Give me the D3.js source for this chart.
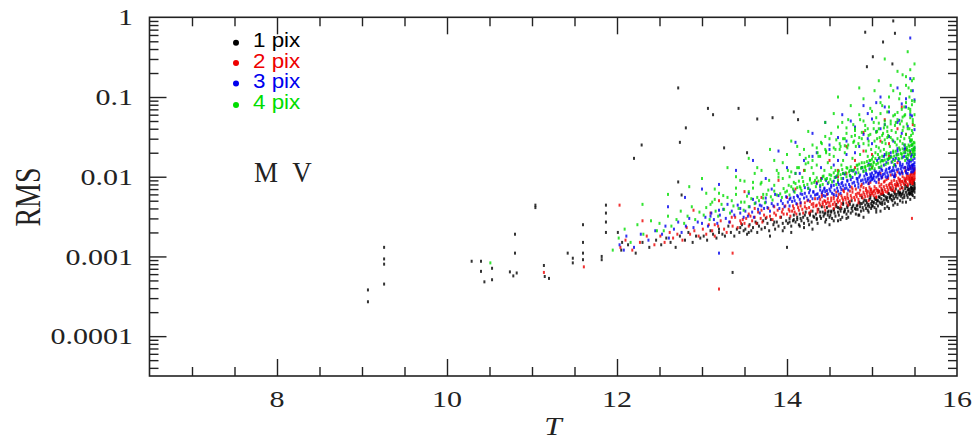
<!DOCTYPE html>
<html><head><meta charset="utf-8">
<script src="https://cdn.jsdelivr.net/npm/d3@7"></script>
<style>body{margin:0;background:#fff}svg{display:block}</style>
</head><body>
<svg id="c" width="975" height="447"></svg>
<script>
// ---------- data: [T magnitude, RMS] ----------
const rms1pix = [
[12.05,.0012],[12.13,.0014],[12.22,.0011],[12.3,.0015],[12.38,.0013],[12.46,.0016],
[12.52,.0014],[12.58,.0017],[12.63,.0015],[12.69,.0013],[12.74,.0018],[12.8,.0016],[12.84,.0020],[12.89,.0015],[12.93,.0018],[12.98,.0017],
[13.02,.0018],[13.06,.0016],[13.1,.0021],[13.13,.0019],[13.17,.0017],[13.2,.0022],[13.24,.0019],[13.27,.0018],[13.31,.0024],[13.34,.0020],[13.38,.0018],[13.41,.0022],[13.44,.0020],[13.47,.0025],[13.49,.0021],
[13.51,.0022],[13.53,.0019],[13.56,.0025],[13.58,.0021],[13.6,.0023],[13.63,.0027],[13.65,.0020],[13.67,.0024],[13.7,.0022],[13.72,.0028],[13.74,.0023],[13.77,.0026],[13.79,.0021],[13.81,.0029],[13.84,.0025],[13.86,.0022],[13.88,.0027],[13.9,.0024],[13.93,.0031],[13.95,.0026],[13.97,.0023],[13.99,.0028],
[14.01,.0026],[14.03,.0030],[14.05,.0024],[14.07,.0028],[14.08,.0033],[14.1,.0027],[14.12,.0029],[14.14,.0025],[14.15,.0034],[14.17,.0028],[14.19,.0031],[14.2,.0026],[14.22,.0036],[14.24,.0030],[14.25,.0028],[14.27,.0033],[14.29,.0027],[14.3,.0037],[14.32,.0031],[14.34,.0034],[14.35,.0029],[14.37,.0039],[14.39,.0032],[14.4,.0030],[14.42,.0036],[14.43,.0032],[14.45,.0035],[14.46,.0029],[14.47,.0041],[14.48,.0033],[14.49,.0037],[14.5,.0031],
[14.51,.0033],[14.52,.0037],[14.53,.0030],[14.55,.0039],[14.56,.0035],[14.57,.0032],[14.58,.0042],[14.6,.0036],[14.61,.0033],[14.62,.0040],[14.63,.0037],[14.65,.0031],[14.66,.0045],[14.67,.0036],[14.68,.0039],[14.7,.0034],[14.71,.0041],[14.72,.0037],[14.73,.0048],[14.75,.0035],[14.76,.0040],[14.77,.0037],[14.78,.0044],[14.8,.0040],[14.81,.0034],[14.82,.0043],[14.83,.0039],[14.85,.0048],[14.86,.0042],[14.87,.0037],[14.88,.0046],[14.89,.0041],[14.9,.0038],[14.91,.0051],[14.92,.0044],[14.93,.0040],[14.94,.0047],[14.95,.0038],[14.96,.0045],[14.97,.0042],[14.98,.0054],[14.99,.0046],[14.99,.0040],[15.0,.0049],[15.0,.0043],
[15.01,.0043],[15.02,.0048],[15.03,.0041],[15.04,.0052],[15.05,.0046],[15.06,.0050],[15.07,.0043],[15.08,.0056],[15.09,.0048],[15.1,.0046],[15.11,.0053],[15.12,.0048],[15.13,.0060],[15.14,.0051],[15.15,.0046],[15.16,.0056],[15.17,.0051],[15.18,.0055],[15.19,.0049],[15.2,.0061],[15.21,.0054],[15.22,.0058],[15.23,.0052],[15.24,.0067],[15.25,.0057],[15.26,.0053],[15.27,.0061],[15.28,.0056],[15.29,.0060],[15.3,.0054],[15.31,.0066],[15.32,.0059],[15.33,.0063],[15.34,.0057],[15.35,.0073],[15.36,.0062],[15.37,.0066],[15.38,.0059],[15.39,.0071],[15.4,.0064],[15.41,.0059],[15.42,.0068],[15.42,.0075],[15.43,.0062],[15.44,.0070],[15.44,.0065],[15.45,.0081],[15.45,.0061],[15.46,.0074],[15.46,.0067],[15.47,.0071],[15.47,.0064],[15.48,.0079],[15.48,.0072],[15.49,.0068],[15.49,.0085],[15.5,.0076],[15.5,.0070],[15.5,.0064],[15.5,.0082],
[15.33,.0062],[15.07,.0050],[15.46,.0072],[15.21,.0056],[15.39,.0078],[15.12,.0045],[15.48,.0066],[15.28,.0070],[15.02,.0047],[15.44,.0060],[15.17,.0053],[15.36,.0054],[15.09,.0055],[15.49,.0090],[15.24,.0050],[15.41,.0075],[15.05,.0052],[15.31,.0063],[15.47,.0060],[15.14,.0058],[15.38,.0055],[15.26,.0064],[15.5,.0072],[15.19,.0062],[15.43,.0069],[15.03,.0054],[15.35,.0060],[15.11,.0060],[15.45,.0088],[15.23,.0059],
[14.52,.0036],[14.08,.0029],[14.77,.0042],[14.31,.0032],[14.93,.0050],[14.16,.0030],[14.64,.0040],[14.44,.0034],[14.86,.0046],[14.03,.0027],[14.71,.0043],[14.27,.0035],[14.97,.0052],[14.55,.0038],[14.12,.0031],[14.83,.0044],[14.39,.0036],[14.68,.0037],[14.21,.0033],[14.9,.0048],[14.48,.0036],[14.74,.0045],[14.35,.0030],[14.95,.0043],[14.6,.0041],[14.81,.0039],
[15.42,.0055],[15.18,.0042],[15.33,.0050],[15.48,.0058],[15.05,.0039],[15.27,.0047],[15.39,.0088],[15.12,.0068],[15.45,.0062],[15.22,.0072],[14.96,.0036],[14.84,.0033],[14.72,.0031],[14.63,.0029],[14.55,.0028],[14.45,.0027],[14.36,.0026],[14.26,.0025],[14.15,.0024],[14.98,.0058],[14.88,.0055],[14.76,.0050],[14.66,.0047],[14.58,.0045],[14.41,.0042],[15.08,.0065],[15.3,.0080],[15.47,.0095],[15.36,.0048],[15.15,.0040],[15.5,.0055],[15.25,.0044],
[13.2,.0020],[13.45,.0023],[13.65,.0026],[13.85,.0027],[13.55,.0020],[13.75,.0030],
[14.05,.0020],[14.5,.0025],[13.8,.0018],[15.1,.0037],[14.3,.0022],[14.9,.0031],[15.3,.0045],[15.45,.0052],[14.2,.0023],[14.6,.0028],[14.85,.0033],[15.2,.0040],[15.4,.0048],[14.7,.0030],[13.95,.0021],[15.05,.0036],
[9.07,.00038],[9.07,.00027],[9.26,.0013],[9.26,.00093],[9.26,.0008],[9.26,.00045],[10.29,.00087],[10.4,.00087],[10.4,.00065],[10.44,.00048],[10.53,.00071],[10.53,.00051],[10.74,.00064],[10.78,.00057],[10.82,.00062],[10.8,.0019],[10.8,.0011],[11.04,.0044],[11.04,.0041],[11.14,.00077],[11.15,.00056],[11.2,.00053],[11.42,.0011],[11.48,.00095],[11.48,.00083],[11.6,.0025],[11.6,.0015],[11.6,.0011],[11.6,.00091],[11.82,.001],[11.82,.00091],[11.87,.0044],[11.87,.0035],[11.87,.0027],[11.87,.002],[12.01,.002],[12.06,.0015],[13.36,.00063],[14.0,.0013],
[15.25,.9],[14.92,.65],[15.13,.49],[15.27,.63],[15.01,.32],[15.24,.26],[14.94,.24],[12.72,.13],[13.07,.072],[13.13,.06],[13.43,.072],[13.65,.053],[13.83,.055],[14.08,.065],[14.13,.052],[12.81,.041],[12.74,.027],[12.29,.025],[12.2,.017],[12.72,.0086],[12.76,.0059],[13.26,.023],[13.53,.02]
];
const rms2pix = [
[12.04,.0013],[12.1,.0016],[12.18,.0012],[12.27,.0015],[12.35,.0018],[12.44,.0014],
[12.51,.0018],[12.56,.0015],[12.62,.0020],[12.66,.0017],[12.71,.0019],[12.77,.0016],[12.82,.0023],[12.86,.0019],[12.91,.0021],[12.96,.0018],
[13.01,.0022],[13.05,.0019],[13.08,.0025],[13.12,.0021],[13.15,.0018],[13.19,.0024],[13.22,.0028],[13.26,.0022],[13.29,.0020],[13.33,.0027],[13.36,.0024],[13.39,.0031],[13.42,.0023],[13.46,.0026],[13.48,.0029],
[13.5,.0026],[13.52,.0030],[13.55,.0024],[13.57,.0032],[13.59,.0028],[13.62,.0031],[13.64,.0026],[13.66,.0036],[13.69,.0030],[13.71,.0027],[13.73,.0033],[13.76,.0031],[13.78,.0040],[13.8,.0032],[13.83,.0029],[13.85,.0035],[13.87,.0033],[13.89,.0038],[13.92,.0031],[13.94,.0036],[13.96,.0034],[13.98,.0043],
[14.0,.0034],[14.02,.0039],[14.04,.0032],[14.06,.0037],[14.07,.0043],[14.09,.0036],[14.11,.0034],[14.13,.0041],[14.14,.0038],[14.16,.0047],[14.18,.0039],[14.19,.0035],[14.21,.0042],[14.23,.0040],[14.24,.0050],[14.26,.0041],[14.28,.0037],[14.29,.0045],[14.31,.0042],[14.33,.0053],[14.34,.0043],[14.36,.0039],[14.38,.0047],[14.39,.0044],[14.41,.0056],[14.42,.0045],[14.44,.0042],[14.45,.0049],[14.46,.0046],[14.47,.0060],[14.48,.0048],[14.49,.0043],
[14.5,.0047],[14.51,.0043],[14.52,.0050],[14.54,.0045],[14.55,.0053],[14.56,.0048],[14.57,.0044],[14.59,.0051],[14.6,.0048],[14.61,.0060],[14.62,.0050],[14.64,.0046],[14.65,.0054],[14.66,.0051],[14.67,.0065],[14.69,.0052],[14.7,.0047],[14.71,.0056],[14.72,.0053],[14.74,.0049],[14.75,.0058],[14.76,.0054],[14.77,.0070],[14.79,.0055],[14.8,.0051],[14.81,.0060],[14.82,.0056],[14.84,.0052],[14.85,.0062],[14.86,.0058],[14.87,.0076],[14.88,.0059],[14.89,.0054],[14.9,.0064],[14.91,.0060],[14.92,.0056],[14.93,.0067],[14.94,.0062],[14.95,.0057],[14.96,.0082],[14.97,.0063],[14.98,.0059],[14.98,.0069],[14.99,.0065],[15.0,.0061],
[15.01,.0064],[15.02,.0058],[15.03,.0068],[15.04,.0062],[15.05,.0056],[15.06,.0067],[15.07,.0063],[15.08,.0084],[15.09,.0066],[15.1,.0061],[15.11,.0072],[15.12,.0067],[15.13,.0063],[15.14,.0075],[15.15,.0069],[15.16,.0065],[15.17,.0092],[15.18,.0073],[15.19,.0068],[15.2,.0079],[15.21,.0074],[15.22,.0069],[15.23,.0082],[15.24,.0077],[15.25,.0072],[15.26,.0102],[15.27,.0080],[15.28,.0075],[15.29,.0087],[15.3,.0082],[15.31,.0077],[15.32,.0090],[15.33,.0085],[15.34,.0079],[15.35,.0112],[15.36,.0088],[15.37,.0083],[15.38,.0096],[15.39,.0090],[15.4,.0085],[15.41,.0100],[15.42,.0093],[15.42,.0081],[15.43,.0124],[15.44,.0097],[15.44,.0089],[15.45,.0105],[15.45,.0085],[15.46,.0099],[15.46,.0093],[15.47,.0112],[15.47,.0088],[15.48,.0103],[15.48,.0096],[15.49,.0110],[15.49,.0091],[15.5,.0106],[15.5,.0098],[15.5,.0117],[15.5,.0093],
[15.33,.0092],[15.07,.0068],[15.46,.0108],[15.21,.0082],[15.39,.0118],[15.12,.0062],[15.48,.0088],[15.28,.0104],[15.02,.0066],[15.44,.0095],[15.17,.0078],[15.36,.0072],[15.09,.0076],[15.49,.0125],[15.24,.0068],[15.41,.0108],[15.05,.0071],[15.31,.0096],[15.47,.0082],[15.14,.0086],[15.38,.0080],[15.26,.0090],[15.5,.0112],[15.19,.0095],[15.43,.0102],[15.03,.0075],[15.35,.0087],[15.11,.0080],[15.45,.0128],[15.23,.0088],[15.4,.0094],[15.29,.0078],
[14.52,.0054],[14.08,.0040],[14.77,.0064],[14.31,.0046],[14.93,.0071],[14.16,.0043],[14.64,.0058],[14.44,.0050],[14.86,.0068],[14.03,.0037],[14.71,.0061],[14.27,.0049],[14.97,.0074],[14.55,.0057],[14.12,.0045],[14.83,.0062],[14.39,.0052],[14.68,.0055],[14.21,.0047],[14.9,.0073],[14.48,.0053],[14.74,.0066],[14.35,.0044],[14.95,.0066],[14.6,.0055],[14.81,.0070],[14.42,.0048],[14.99,.0070],
[15.42,.0078],[15.18,.0064],[15.33,.0070],[15.48,.0082],[15.05,.0055],[15.27,.0066],[15.39,.0130],[15.12,.0098],[15.45,.0088],[15.22,.0105],[14.96,.0050],[14.84,.0047],[14.72,.0044],[14.63,.0042],[14.55,.0040],[14.45,.0038],[14.36,.0036],[14.26,.0035],[14.98,.0085],[14.88,.0080],[14.76,.0074],[14.66,.0068],[14.58,.0064],[14.41,.0060],[15.08,.0092],[15.3,.0115],[15.47,.0135],[15.36,.0100],[15.15,.0088],[15.5,.0125],
[13.15,.0025],[13.35,.0031],[13.55,.0034],[13.7,.0038],[13.85,.0042],[13.95,.0039],[13.45,.0028],[13.62,.0040],
[12.3,.0028],[12.9,.0038],[13.2,.0050],[13.5,.0065],[13.7,.0055],[13.9,.0090],[14.1,.0070],[14.2,.012],[14.35,.0085],[14.5,.016],[14.6,.010],[14.7,.024],[14.8,.013],[14.9,.036],[15.0,.019],[15.1,.011],[15.15,.052],[15.2,.026],[15.3,.015],[15.35,.075],[15.4,.034],[15.45,.020],[15.48,.045],[13.1,.0035],[14.0,.0055],
[14.4,.0095],[14.6,.012],[14.8,.016],[15.0,.013],[15.2,.018],[15.4,.022],[15.1,.028],[15.3,.040],[14.9,.021],[14.7,.011],
[15.47,.0030],[13.36,.0011],[13.2,.00039],[11.14,.00063],[11.61,.00074],[12.03,.0044]
];
const rms3pix = [
[12.03,.0014],[12.11,.0018],[12.2,.0013],[12.28,.0019],[12.37,.0016],[12.45,.0021],
[12.53,.0019],[12.57,.0024],[12.61,.0017],[12.67,.0022],[12.72,.0027],[12.76,.0020],[12.81,.0024],[12.85,.0030],[12.9,.0023],[12.95,.0027],
[13.0,.0026],[13.04,.0031],[13.07,.0024],[13.11,.0035],[13.14,.0029],[13.18,.0026],[13.21,.0033],[13.25,.0039],[13.28,.0030],[13.32,.0027],[13.35,.0037],[13.38,.0033],[13.42,.0044],[13.45,.0035],[13.49,.0031],
[13.51,.0037],[13.54,.0032],[13.56,.0042],[13.59,.0036],[13.61,.0031],[13.63,.0047],[13.66,.0039],[13.68,.0035],[13.7,.0043],[13.73,.0040],[13.75,.0054],[13.77,.0041],[13.8,.0037],[13.82,.0046],[13.84,.0043],[13.86,.0060],[13.89,.0045],[13.91,.0040],[13.93,.0050],[13.95,.0046],[13.97,.0042],[13.99,.0056],
[14.01,.0048],[14.03,.0043],[14.04,.0054],[14.06,.0049],[14.08,.0066],[14.09,.0050],[14.11,.0046],[14.13,.0056],[14.15,.0052],[14.16,.0047],[14.18,.0060],[14.2,.0054],[14.21,.0073],[14.23,.0056],[14.25,.0051],[14.26,.0063],[14.28,.0057],[14.3,.0053],[14.31,.0065],[14.33,.0059],[14.35,.0082],[14.36,.0061],[14.38,.0056],[14.39,.0068],[14.41,.0063],[14.43,.0058],[14.44,.0072],[14.45,.0065],[14.46,.0090],[14.47,.0067],[14.48,.0061],[14.5,.0070],
[14.51,.0066],[14.52,.0074],[14.53,.0062],[14.55,.0078],[14.56,.0068],[14.57,.0098],[14.59,.0072],[14.6,.0066],[14.61,.0080],[14.63,.0074],[14.64,.0069],[14.65,.0085],[14.66,.0077],[14.68,.0108],[14.69,.0079],[14.7,.0072],[14.71,.0088],[14.73,.0080],[14.74,.0075],[14.75,.0092],[14.77,.0083],[14.78,.0118],[14.79,.0085],[14.8,.0077],[14.82,.0095],[14.83,.0087],[14.84,.0081],[14.85,.0099],[14.87,.0089],[14.88,.0130],[14.89,.0091],[14.9,.0083],[14.91,.0102],[14.92,.0093],[14.93,.0086],[14.94,.0106],[14.95,.0095],[14.96,.0145],[14.97,.0097],[14.98,.0089],[14.98,.0108],[14.99,.0099],[15.0,.0092],[15.0,.0111],[14.58,.0058],
[15.01,.0095],[15.02,.0104],[15.03,.0089],[15.04,.0112],[15.05,.0099],[15.06,.0160],[15.07,.0102],[15.08,.0093],[15.09,.0115],[15.1,.0104],[15.11,.0096],[15.12,.0120],[15.13,.0107],[15.14,.0180],[15.15,.0109],[15.16,.0100],[15.17,.0124],[15.18,.0112],[15.19,.0103],[15.2,.0127],[15.21,.0115],[15.22,.0200],[15.23,.0117],[15.24,.0106],[15.25,.0131],[15.26,.0119],[15.27,.0109],[15.28,.0135],[15.29,.0122],[15.3,.0225],[15.31,.0124],[15.32,.0112],[15.33,.0139],[15.34,.0126],[15.35,.0116],[15.36,.0143],[15.37,.0129],[15.38,.0250],[15.39,.0131],[15.4,.0119],[15.41,.0148],[15.42,.0134],[15.42,.0110],[15.43,.0123],[15.44,.0152],[15.44,.0137],[15.45,.0280],[15.45,.0127],[15.46,.0157],[15.46,.0115],[15.47,.0140],[15.47,.0190],[15.48,.0131],[15.48,.0162],[15.49,.0143],[15.49,.0120],[15.5,.0170],[15.5,.0135],[15.5,.0150],[15.5,.0125],
[15.33,.015],[15.07,.011],[15.46,.018],[15.21,.013],[15.39,.020],[15.12,.010],[15.48,.014],[15.28,.017],[15.02,.0098],[15.44,.016],[15.17,.015],[15.36,.011],[15.09,.013],[15.49,.022],[15.24,.012],[15.41,.017],[15.05,.0115],[15.31,.016],[15.47,.0125],[15.14,.014],[15.38,.018],[15.26,.010],[15.5,.019],[15.19,.0165],[15.43,.0145],[15.03,.012],[15.35,.0135],[15.11,.0125],[15.45,.021],[15.23,.0152],[15.4,.0112],[15.08,.0108],[15.29,.019],[15.16,.0118],[15.42,.0162],[15.27,.0142],
[14.52,.0078],[14.08,.0055],[14.77,.0098],[14.31,.0064],[14.93,.011],[14.16,.0061],[14.64,.0082],[14.44,.0070],[14.86,.0105],[14.03,.0052],[14.71,.0090],[14.27,.0068],[14.97,.0125],[14.55,.0088],[14.12,.0058],[14.83,.0094],[14.39,.0075],[14.68,.0071],[14.21,.0062],[14.9,.0118],[14.48,.0082],[14.74,.0104],[14.35,.0060],[14.95,.0090],[14.6,.0085],[14.81,.0112],[14.42,.0066],[14.99,.0102],[14.25,.0072],[14.66,.0095],
[15.42,.0125],[15.18,.0098],[15.33,.0108],[15.48,.0115],[15.05,.0085],[15.27,.0100],[15.39,.023],[15.12,.016],[15.45,.0135],[15.22,.018],[14.96,.0082],[14.84,.0074],[14.72,.0068],[14.63,.0062],[14.55,.0060],[14.45,.0057],[14.36,.0053],[14.98,.014],[14.88,.013],[14.76,.012],[14.66,.011],[14.58,.010],[14.41,.0095],[15.08,.017],[15.3,.021],[15.47,.025],[15.36,.0175],[15.15,.019],[15.5,.023],[15.25,.0165],
[13.1,.0032],[13.3,.0045],[13.45,.0040],[13.6,.0052],[13.75,.0048],[13.9,.0058],[13.2,.0038],[13.55,.0062],[13.82,.0070],[13.68,.0044],
[13.2,.0080],[13.4,.012],[13.6,.016],[13.75,.0095],[13.9,.021],[14.0,.013],[14.1,.027],[14.2,.016],[14.3,.035],[14.35,.020],[14.45,.048],[14.5,.025],[14.6,.031],[14.65,.060],[14.7,.019],[14.8,.042],[14.85,.024],[14.9,.078],[14.95,.030],[15.0,.053],[15.05,.037],[15.1,.100],[15.15,.045],[15.2,.065],[15.25,.028],[15.3,.13],[15.32,.051],[15.35,.035],[15.4,.075],[15.42,.043],[15.45,.17],[15.47,.058],[15.5,.092],[15.5,.039],[12.8,.0055],[13.0,.0070],[12.6,.0042],[14.15,.011],[14.55,.014],[15.38,.022],
[14.3,.018],[14.5,.022],[14.7,.028],[14.9,.034],[15.1,.040],[15.3,.048],[15.45,.060],[15.2,.032],[15.0,.026],[14.8,.020],[14.6,.016],[14.4,.013],[14.1,.011],[15.4,.095],[15.15,.075],[14.95,.062],[14.75,.050],[15.48,.12],[15.35,.082],[15.05,.085],
[15.45,.55],[13.2,.0011],[12.08,.0012]
];
const rms4pix = [
[12.02,.0017],[12.09,.0022],[12.16,.0015],[12.24,.0025],[12.31,.0019],[12.4,.0028],[12.47,.0021],
[12.5,.0026],[12.55,.0021],[12.6,.0032],[12.64,.0024],[12.7,.0029],[12.75,.0037],[12.79,.0026],[12.83,.0032],[12.88,.0042],[12.92,.0029],[12.97,.0036],
[13.02,.0033],[13.05,.0041],[13.09,.0029],[13.12,.0048],[13.16,.0037],[13.19,.0032],[13.23,.0045],[13.26,.0039],[13.3,.0055],[13.33,.0035],[13.37,.0043],[13.4,.0060],[13.43,.0040],[13.46,.0048],[13.49,.0038],
[13.5,.0048],[13.53,.0057],[13.55,.0042],[13.58,.0053],[13.6,.0072],[13.62,.0046],[13.65,.0055],[13.67,.0050],[13.69,.0081],[13.72,.0054],[13.74,.0047],[13.76,.0060],[13.79,.0090],[13.81,.0056],[13.83,.0051],[13.85,.0066],[13.88,.0059],[13.9,.0099],[13.92,.0061],[13.94,.0055],[13.96,.0071],[13.98,.0064],
[14.0,.0066],[14.02,.0078],[14.03,.0059],[14.05,.0115],[14.07,.0070],[14.09,.0064],[14.1,.0082],[14.12,.0073],[14.14,.0130],[14.15,.0075],[14.17,.0067],[14.19,.0087],[14.2,.0078],[14.22,.0145],[14.24,.0080],[14.25,.0071],[14.27,.0091],[14.29,.0083],[14.3,.0160],[14.32,.0085],[14.34,.0075],[14.35,.0097],[14.37,.0088],[14.39,.0180],[14.4,.0090],[14.42,.0080],[14.43,.0102],[14.45,.0093],[14.46,.0200],[14.47,.0095],[14.49,.0085],[14.5,.0106],
[14.51,.0093],[14.52,.0104],[14.53,.0086],[14.55,.0112],[14.56,.0098],[14.57,.0220],[14.59,.0103],[14.6,.0091],[14.61,.0118],[14.63,.0106],[14.64,.0095],[14.65,.0123],[14.66,.0110],[14.68,.0245],[14.69,.0112],[14.7,.0100],[14.71,.0128],[14.73,.0115],[14.74,.0103],[14.75,.0133],[14.77,.0119],[14.78,.0270],[14.79,.0122],[14.8,.0108],[14.82,.0139],[14.83,.0124],[14.84,.0112],[14.85,.0144],[14.87,.0128],[14.88,.0300],[14.89,.0131],[14.9,.0116],[14.91,.0150],[14.92,.0134],[14.93,.0120],[14.94,.0155],[14.95,.0138],[14.96,.0330],[14.97,.0140],[14.98,.0124],[14.98,.0160],[14.99,.0143],[15.0,.0128],[15.0,.0166],[14.58,.0080],
[15.01,.0137],[15.02,.0153],[15.03,.0126],[15.04,.0169],[15.05,.0143],[15.06,.0370],[15.07,.0148],[15.08,.0131],[15.09,.0175],[15.1,.0153],[15.11,.0136],[15.12,.0181],[15.13,.0158],[15.14,.0410],[15.15,.0162],[15.16,.0142],[15.17,.0188],[15.18,.0166],[15.19,.0148],[15.2,.0195],[15.21,.0172],[15.22,.0460],[15.23,.0176],[15.24,.0154],[15.25,.0202],[15.26,.0181],[15.27,.0160],[15.28,.0209],[15.29,.0186],[15.3,.0520],[15.31,.0190],[15.32,.0166],[15.33,.0217],[15.34,.0196],[15.35,.0172],[15.36,.0224],[15.37,.0200],[15.38,.0580],[15.39,.0205],[15.4,.0179],[15.41,.0232],[15.42,.0210],[15.42,.0170],[15.43,.0186],[15.44,.0240],[15.44,.0215],[15.45,.0650],[15.45,.0193],[15.46,.0248],[15.46,.0165],[15.47,.0220],[15.47,.0290],[15.48,.0200],[15.48,.0256],[15.49,.0226],[15.49,.0180],[15.5,.0265],[15.5,.0208],[15.5,.0236],[15.5,.0190],
[15.33,.028],[15.07,.019],[15.46,.033],[15.21,.024],[15.39,.016],[15.12,.027],[15.48,.021],[15.28,.036],[15.02,.015],[15.44,.040],[15.17,.020],[15.36,.026],[15.09,.031],[15.49,.018],[15.24,.029],[15.41,.022],[15.05,.024],[15.31,.017],[15.47,.038],[15.14,.022],[15.38,.030],[15.26,.014],[15.5,.044],[15.19,.033],[15.43,.025],[15.03,.028],[15.35,.019],[15.11,.016],[15.45,.029],[15.23,.038],[15.4,.034],[15.08,.023],[15.29,.025],[15.49,.027],[15.16,.026],[15.37,.042],[15.04,.020],[15.25,.021],[15.42,.019],[15.13,.035],[15.32,.023],[15.47,.025],[15.2,.017],[15.06,.030],[15.34,.032],[15.5,.022],[15.15,.029],[15.27,.027],[15.44,.031],[15.01,.018],[15.22,.031],[15.39,.025],[15.1,.021],[15.46,.028],[15.3,.030],[15.18,.037],[15.41,.046],[15.48,.035],[15.35,.050],[15.45,.055],
[14.52,.013],[14.08,.0085],[14.77,.017],[14.31,.011],[14.93,.021],[14.16,.0072],[14.64,.014],[14.44,.012],[14.86,.019],[14.03,.010],[14.71,.023],[14.27,.0095],[14.97,.016],[14.55,.018],[14.12,.013],[14.83,.014],[14.39,.0078],[14.68,.020],[14.21,.012],[14.9,.026],[14.48,.015],[14.05,.0075],[14.74,.012],[14.35,.014],[14.95,.018],[14.6,.011],[14.18,.0098],[14.81,.024],[14.42,.010],[14.99,.022],[14.25,.015],[14.66,.016],[14.1,.011],[14.88,.015],[14.5,.019],[14.33,.0090],[14.79,.028],[14.57,.012],[14.22,.017],[14.92,.013],[14.46,.021],[14.14,.0088],[14.7,.013],[14.37,.018],[14.85,.031],[14.62,.022],[14.29,.013],[14.96,.025],[14.01,.012],[14.75,.010],
[15.42,.040],[15.18,.042],[15.33,.046],[15.48,.052],[15.05,.036],[15.27,.044],[15.39,.060],[15.12,.033],[15.45,.070],[15.22,.050],[14.96,.028],[14.84,.026],[14.72,.025],[14.63,.024],[14.55,.023],[14.45,.022],[14.36,.020],[14.26,.018],[14.98,.034],[14.88,.036],[14.76,.032],[14.66,.030],[14.58,.029],[14.41,.026],[15.08,.040],[15.3,.064],[15.47,.080],[15.36,.056],[15.15,.050],[15.5,.060],[15.25,.058],[15.02,.048],[14.92,.044],[14.8,.040],[14.7,.035],[15.4,.085],[15.44,.10],[15.2,.075],[15.35,.070],[15.1,.062],
[13.1,.0045],[13.25,.0058],[13.4,.0072],[13.55,.0065],[13.7,.0085],[13.85,.0078],[13.95,.0095],[13.35,.0050],[13.62,.011],[13.78,.0068],[13.15,.0052],[13.5,.0088],[13.88,.012],[13.05,.0062],[13.72,.0060],
[12.3,.0045],[12.6,.0060],[12.85,.0075],[13.0,.0095],[13.15,.0070],[13.3,.013],[13.45,.0090],[13.55,.017],[13.7,.012],[13.8,.022],[13.95,.015],[14.05,.028],[14.15,.019],[14.25,.037],[14.35,.023],[14.45,.048],[14.5,.030],[14.55,.062],[14.62,.026],[14.7,.041],[14.75,.078],[14.8,.033],[14.86,.052],[14.9,.095],[14.95,.040],[15.0,.066],[15.03,.12],[15.08,.047],[15.12,.078],[15.18,.031],[15.22,.14],[15.27,.060],[15.32,.095],[15.36,.038],[15.4,.18],[15.43,.072],[15.46,.12],[15.48,.048],[15.5,.26],[15.5,.088],[15.47,.16],[15.3,.21],[14.85,.13],[14.6,.10],[15.15,.30],
[14.3,.025],[14.52,.035],[14.68,.030],[14.78,.045],[14.92,.038],[15.05,.055],[15.18,.065],[15.28,.048],[15.38,.075],[15.47,.090],[15.43,.13],[15.33,.11],[15.2,.10],[15.1,.085],[14.98,.072],[14.85,.060],[14.72,.052],[14.6,.042],[14.45,.032],[14.2,.022],[14.0,.019],[13.85,.016],[13.65,.013],[13.4,.010],[15.49,.17],[15.4,.14],[15.25,.12],[15.15,.045],[15.02,.040],[14.9,.050],[14.8,.038],[14.65,.048],[14.4,.027],[14.12,.024],[13.9,.011],[13.6,.0085],[13.2,.0062],[15.45,.22],[15.36,.19],[15.08,.16],
[10.51,.00083],[15.42,.37],[11.95,.0012]
];
const seriesNames = ["1 pix", "2 pix", "3 pix", "4 pix"];
const seriesColors = ["#000000", "#ee0000", "#0000ee", "#00dd00"];
const xMajorTicks = [8, 10, 12, 14, 16];
const yMajorTicks = [0.0001, 0.001, 0.01, 0.1, 1];
const yTickLabels = ["0.0001", "0.001", "0.01", "0.1", "1"];
const xTitle = "T", yTitle = "RMS", panelNote = ["M", "V"];

// ---------- layout ----------
const svg = d3.select("#c");
const L = 149.5, R = 957, TOP = 17.3, BOT = 376;
const x = d3.scaleLinear().domain([6.5, 16]).range([L, R]);
const y = d3.scaleLog().domain([Math.pow(10, -4.5), 1]).range([BOT, TOP]);
const ink = "#222";

// points
const series = [rms1pix, rms2pix, rms3pix, rms4pix];
const plot = svg.append("g");
series.forEach((pts, i) => {
  plot.append("g").attr("fill", seriesColors[i]).attr("fill-opacity", 0.8)
    .selectAll("rect").data(pts).join("rect")
    .attr("x", d => x(d[0]) - 1).attr("y", d => y(d[1]) - 1.5)
    .attr("width", 2).attr("height", 3);
});

// ticks via d3 axes (inward)
const xMinor = d3.range(7, 16, 0.5).filter(v => !xMajorTicks.includes(v));
const yMinor = y.ticks().filter(v => !yMajorTicks.some(m => Math.abs(m - v) / m < 1e-6));
function axisG(axis, tx, ty) {
  const g = svg.append("g").attr("transform", `translate(${tx},${ty})`).call(axis);
  g.select(".domain").remove();
  g.selectAll("line").attr("stroke", ink).attr("stroke-width", 1.4);
  g.selectAll("text").remove();
}
axisG(d3.axisBottom(x).tickValues(xMajorTicks.filter(v => v < 16)).tickSize(-17), 0, BOT);
axisG(d3.axisBottom(x).tickValues(xMinor).tickSize(-9), 0, BOT);
axisG(d3.axisTop(x).tickValues(xMajorTicks.filter(v => v < 16)).tickSize(-17), 0, TOP);
axisG(d3.axisTop(x).tickValues(xMinor).tickSize(-9), 0, TOP);
axisG(d3.axisLeft(y).tickValues(yMajorTicks.filter(v => v < 1)).tickSize(-17), L, 0);
axisG(d3.axisLeft(y).tickValues(yMinor).tickSize(-9), L, 0);
axisG(d3.axisRight(y).tickValues(yMajorTicks.filter(v => v < 1)).tickSize(-17), R, 0);
axisG(d3.axisRight(y).tickValues(yMinor).tickSize(-9), R, 0);

// frame
svg.append("rect").attr("x", L).attr("y", TOP).attr("width", R - L).attr("height", BOT - TOP)
  .attr("fill", "none").attr("stroke", ink).attr("stroke-width", 1.6);

// tick labels
const serif = "'Liberation Serif', 'Times New Roman', serif";
yMajorTicks.forEach((v, i) => {
  svg.append("g").attr("transform", `translate(133,${y(v)}) scale(1.25,1)`)
    .append("text").attr("text-anchor", "end").attr("dy", "0.34em")
    .attr("font-family", serif).attr("font-size", 24).attr("fill", ink).text(yTickLabels[i]);
});
xMajorTicks.forEach(v => {
  svg.append("g").attr("transform", `translate(${x(v)},407) scale(1.25,1)`)
    .append("text").attr("text-anchor", "middle")
    .attr("font-family", serif).attr("font-size", 24).attr("fill", ink).text(String(v));
});

// axis titles
svg.append("g").attr("transform", `translate(553,435) scale(1.25,1)`)
  .append("text").attr("text-anchor", "middle").attr("font-family", serif)
  .attr("font-style", "italic").attr("font-size", 25).attr("fill", ink).text(xTitle);
svg.append("g").attr("transform", `translate(40,197) scale(1.25,1) rotate(-90)`)
  .append("text").attr("text-anchor", "middle").attr("font-family", serif)
  .attr("font-size", 28).attr("fill", ink).text(yTitle);

// panel note
[[266, panelNote[0]], [302, panelNote[1]]].forEach(([px, t]) => {
  svg.append("g").attr("transform", `translate(${px},182) scale(0.9,1)`)
    .append("text").attr("text-anchor", "middle").attr("font-family", serif)
    .attr("font-size", 30).attr("fill", ink).text(t);
});

// legend
const legY = [42.7, 63, 83.5, 105];
const legBase = [47, 67.5, 88, 108.5];
seriesNames.forEach((name, i) => {
  svg.append("circle").attr("cx", 236).attr("cy", legY[i]).attr("r", 3).attr("fill", seriesColors[i]);
  svg.append("g").attr("transform", `translate(253,${legBase[i]}) scale(1.12,1)`)
    .append("text").attr("font-family", "'Liberation Sans', Arial, sans-serif")
    .attr("font-size", 20).attr("fill", seriesColors[i]).text(name);
});
</script>
</body></html>
